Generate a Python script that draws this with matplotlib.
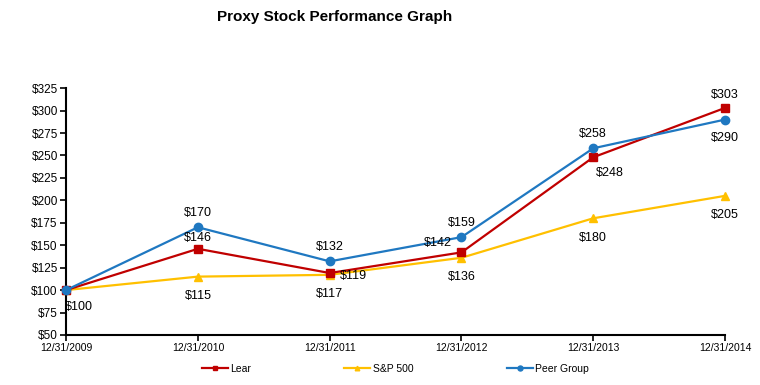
import matplotlib
matplotlib.use("Agg")
import matplotlib.pyplot as plt

plt.rcParams['font.family'] = ['Liberation Sans', 'DejaVu Sans']

dates = ["12/31/2009", "12/31/2010", "12/31/2011", "12/31/2012", "12/31/2013", "12/31/2014"]
lear = [100, 146, 119, 142, 248, 303]
sp500 = [100, 115, 117, 136, 180, 205]
peer = [100, 170, 132, 159, 258, 290]

yticks = list(range(50, 326, 25))

fig = plt.figure(figsize=(7.6, 3.85), dpi=100)
ax = fig.add_axes([0.087, 0.13, 0.867, 0.641])
x = list(range(len(dates)))

ax.plot(x, lear, color='#C00000', marker='s', markersize=5.5, lw=1.6, label='Lear', zorder=3, clip_on=False)
ax.plot(x, sp500, color='#FFC000', marker='^', markersize=5.5, lw=1.6, label='S&P 500', zorder=2, clip_on=False)
ax.plot(x, peer, color='#1F78C1', marker='o', markersize=6, lw=1.6, label='Peer Group', zorder=4, clip_on=False)

fs = 9
lear_off = [(9, -12), (0, 8), (17, -2), (-17, 7), (12, -11), (0, 9)]
sp_off = [None, (0, -14), (0, -14), (0, -14), (0, -14), (0, -14)]
peer_off = [None, (0, 10), (0, 10), (0, 10), (0, 10), (0, -13)]
for series, offs in ((lear, lear_off), (sp500, sp_off), (peer, peer_off)):
    for i, v in enumerate(series):
        if offs[i] is None:
            continue
        dx, dy = offs[i]
        ax.annotate(f"${v}", (x[i], v), xytext=(dx, dy), textcoords='offset points',
                    ha='center', va='center', fontsize=fs, zorder=5)

ax.set_xlim(0, len(dates) - 1)
ax.set_ylim(50, 325)
ax.set_yticks(yticks)
ax.set_yticklabels([f"${t}" for t in yticks], fontsize=8.5)
ax.set_xticks(x)
ax.set_xticklabels(dates, fontsize=7.5)
for s in ['top', 'right']:
    ax.spines[s].set_visible(False)
ax.spines['left'].set_linewidth(1.5)
ax.spines['bottom'].set_linewidth(1.5)
ax.tick_params(axis='both', direction='out', length=4, width=1.2, pad=2)

fig.text(0.44, 0.955, "Proxy Stock Performance Graph", ha='center', va='center',
         fontsize=11, fontweight='bold')

leg = fig.legend(loc='center', bbox_to_anchor=(0.52, 0.042), ncol=3, frameon=False,
                 fontsize=7.5, columnspacing=9, handlelength=2.5, handletextpad=0.2,
                 markerscale=0.6)

fig.savefig("out.png", dpi=100)
